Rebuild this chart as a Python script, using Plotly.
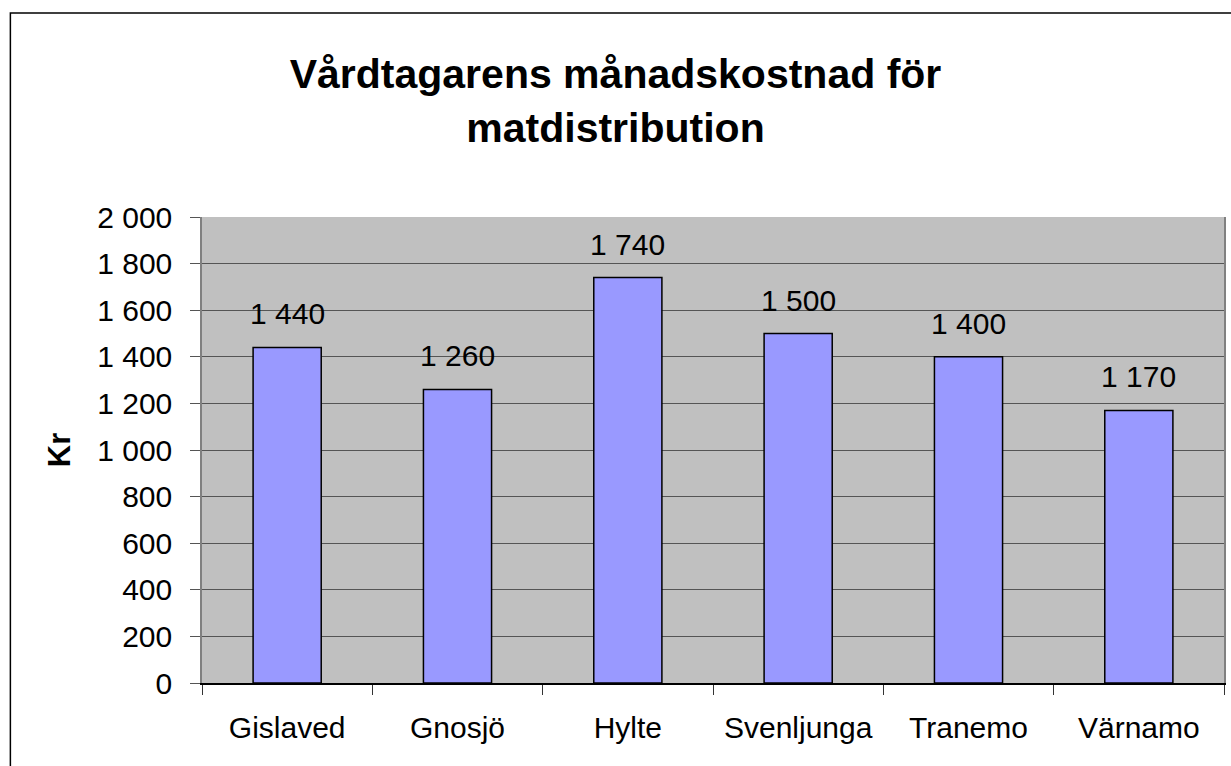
import plotly.graph_objects as go

# kommuner och månadskostnad (kr)
kommuner = ["Gislaved", "Gnosjö", "Hylte", "Svenljunga", "Tranemo", "Värnamo"]
kostnad = [1440, 1260, 1740, 1500, 1400, 1170]
y_ticks = [0, 200, 400, 600, 800, 1000, 1200, 1400, 1600, 1800, 2000]

FONT = "Liberation Sans, Arial, sans-serif"

fig = go.Figure(go.Bar(
    x=kommuner, y=kostnad,
    marker=dict(color="#9999FF", line=dict(color="black", width=1.5)),
))

# värdeetiketter ovanför staplarna
for k, v in zip(kommuner, kostnad):
    fig.add_annotation(x=k, y=v, text=f"{v:,}".replace(",", " "),
                       showarrow=False, yanchor="bottom", yshift=15,
                       font=dict(size=30, color="black", family=FONT))

fig.update_layout(
    width=1231, height=766,
    margin=dict(l=202, r=5, t=217, b=83),
    paper_bgcolor="white", plot_bgcolor="#C0C0C0",
    separators=", ",
    font=dict(family=FONT, color="black"),
    bargap=0.6,
    showlegend=False,
    title=dict(
        text="<b>Vårdtagarens månadskostnad för<br>matdistribution</b>",
        x=0.5, xanchor="center", y=0.8845, yanchor="middle",
        font=dict(size=41, family=FONT),
    ),
)

fig.update_xaxes(
    type="category", tickson="boundaries", ticks="outside", ticklen=10,
    tickcolor="#333333", showline=True, linecolor="black", linewidth=1.5,
    mirror=False, showgrid=False,
    tickfont=dict(size=30), ticklabelstandoff=17,
)
fig.update_yaxes(
    range=[0, 2000], tickvals=y_ticks, tickformat=",",
    ticks="outside", ticklen=10, tickcolor="#555555",
    showline=True, linecolor="#808080", linewidth=1.5, mirror=True,
    showgrid=True, gridcolor="#555555", gridwidth=1, zeroline=False,
    tickfont=dict(size=30), ticklabelstandoff=12,
    title=dict(text="<b>Kr</b>", font=dict(size=31), standoff=17),
)

# yttre ram runt diagrammet
fig.add_shape(type="rect", xref="paper", yref="paper",
              x0=-0.1875, x1=1.2, y0=-0.5, y1=1.4378,
              line=dict(color="black", width=1.5), layer="below")

# ingen marginal runt sidan, så att diagrammet fyller fönstret
fig.write_html("out.html", config={"displayModeBar": False},
               post_script="document.body.style.margin = '0';")
